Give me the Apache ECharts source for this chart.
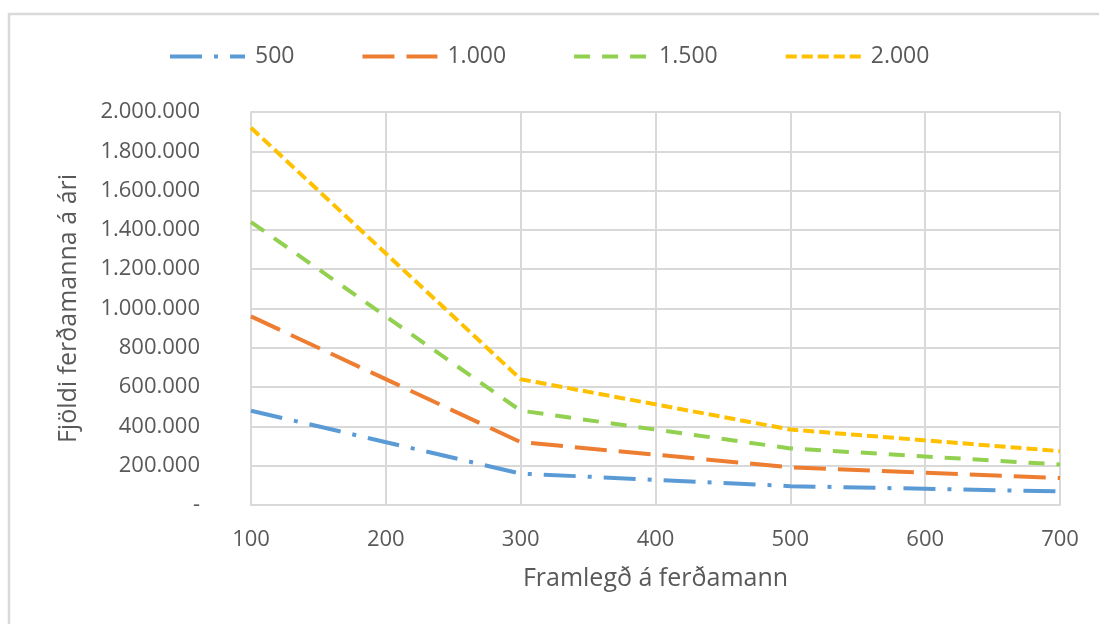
<!DOCTYPE html>
<html>
<head>
<meta charset="utf-8">
<script src="https://cdn.jsdelivr.net/npm/echarts@6/dist/echarts.min.js"></script>
<style>
html,body{margin:0;padding:0;background:#fff;}
#chart{width:1099px;height:624px;}
</style>
</head>
<body>
<div id="chart"></div>
<script>
var xValues = [100, 300, 500, 700];
var seriesNames = ['500', '1.000', '1.500', '2.000'];
var s500 = [480000, 160000, 96000, 69000];
var s1000 = [960000, 320000, 192000, 137000];
var s1500 = [1440000, 480000, 288000, 206000];
var s2000 = [1920000, 640000, 384000, 274000];
var xTitle = 'Framlegð á ferðamann';
var yTitle = 'Fjöldi ferðamanna á ári';

var colors = ['#5B9BD5', '#ED7D31', '#92D050', '#FFC000'];
var dashes = [[32, 12, 4, 12], [32, 12], [16, 12], [11, 5]];
var allValues = [s500, s1000, s1500, s2000];

function pairs(vals) {
  return xValues.map(function (x, i) { return [x, vals[i]]; });
}
function fmt(v) {
  if (v === 0) return '-';
  return String(v).replace(/\B(?=(\d{3})+(?!\d))/g, '.');
}

var FONT = 'Open Sans';
var TXT = '#595959';

var chart = echarts.init(document.getElementById('chart'), null, {renderer: 'canvas'});
chart.setOption({
  animation: false,
  backgroundColor: '#ffffff',
  graphic: [{
    type: 'rect', silent: true, z: -1,
    shape: {x: 9, y: 14, width: 1200, height: 700},
    style: {fill: 'none', stroke: '#d9d9d9', lineWidth: 2.5}
  }],
  legend: {
    left: 168, top: 45, padding: 0,
    itemWidth: 75, itemHeight: 14, itemGap: 66,
    itemStyle: {opacity: 0},
    lineStyle: {width: 4},
    textStyle: {fontFamily: FONT, fontSize: 23, color: TXT, padding: [0, 0, 0, 5]},
    data: seriesNames
  },
  grid: {left: 251, right: 39, top: 112, bottom: 119, containLabel: false},
  xAxis: {
    type: 'value', min: 100, max: 700, interval: 100,
    name: xTitle, nameLocation: 'middle', nameGap: 61,
    nameTextStyle: {fontFamily: FONT, fontSize: 25, color: TXT},
    axisLine: {show: true, lineStyle: {color: '#d9d9d9', width: 2}},
    axisTick: {show: false},
    splitLine: {show: true, lineStyle: {color: '#d9d9d9', width: 2}},
    axisLabel: {fontFamily: FONT, fontSize: 22, color: TXT, margin: 24}
  },
  yAxis: {
    type: 'value', min: 0, max: 2000000, interval: 200000,
    name: yTitle, nameLocation: 'middle', nameGap: 170, nameRotate: 90,
    nameTextStyle: {fontFamily: FONT, fontSize: 25, color: TXT},
    axisLine: {show: true, lineStyle: {color: '#d9d9d9', width: 2}},
    axisTick: {show: false},
    splitLine: {show: true, lineStyle: {color: '#d9d9d9', width: 2}},
    axisLabel: {fontFamily: FONT, fontSize: 22, color: TXT, margin: 51, formatter: fmt}
  },
  series: seriesNames.map(function (name, i) {
    return {
      name: name, type: 'line', symbol: 'none', showSymbol: false,
      data: pairs(allValues[i]),
      itemStyle: {color: colors[i]},
      lineStyle: {color: colors[i], width: 4, type: dashes[i], cap: 'butt'}
    };
  })
});
</script>
</body>
</html>
